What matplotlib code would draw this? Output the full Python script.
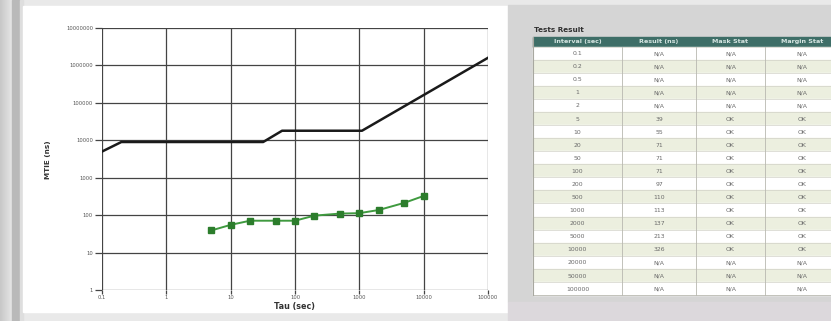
import matplotlib
matplotlib.use("Agg")
import matplotlib.pyplot as plt
from matplotlib.patches import Rectangle
import numpy as np

# mask limit (black) and measured MTIE (green)
mask_tau = [0.1, 0.2, 32, 63, 1100, 100000]
mask_mtie = [5000, 9000, 9000, 18000, 18000, 1600000]

intervals = ["0.1", "0.2", "0.5", "1", "2", "5", "10", "20", "50", "100", "200",
             "500", "1000", "2000", "5000", "10000", "20000", "50000", "100000"]
results = ["N/A", "N/A", "N/A", "N/A", "N/A", "39", "55", "71", "71", "71", "97",
           "110", "113", "137", "213", "326", "N/A", "N/A", "N/A"]
mask_stat = ["N/A"] * 5 + ["OK"] * 11 + ["N/A"] * 3
margin_stat = ["N/A"] * 5 + ["OK"] * 11 + ["N/A"] * 3
headers = ["Interval (sec)", "Result (ns)", "Mask Stat", "Margin Stat"]

xticks = [0.1, 1, 10, 100, 1000, 10000, 100000]
xticklabels = ["0.1", "1", "10", "100", "1000", "10000", "100000"]
yticks = [1, 10, 100, 1000, 10000, 100000, 1000000, 10000000]
yticklabels = ["1", "10", "100", "1000", "10000", "100000", "1000000", "10000000"]

W, H = 831, 321
fig = plt.figure(figsize=(W / 100, H / 100), dpi=100)
fig.patch.set_facecolor("#e9e9e9")

# background panels in pixel coordinates
bg = fig.add_axes([0, 0, 1, 1])
bg.set_xlim(0, W)
bg.set_ylim(H, 0)
bg.axis("off")
grad = np.linspace(0.78, 0.9, 50).reshape(1, -1)
bg.imshow(grad, cmap="gray", vmin=0, vmax=1, extent=[0, 12, H, 0], aspect="auto")
bg.add_patch(Rectangle((12, 0), 8, H, color="#b9b9b9"))
bg.add_patch(Rectangle((20, 0), 3, H, color="#dedede"))
bg.add_patch(Rectangle((23, 6), 485, 306, color="white"))
bg.add_patch(Rectangle((508, 5), W - 508, 297, color="#d5d5d5"))
bg.add_patch(Rectangle((508, 302), W - 508, 19, color="#dcd8dc"))

# table
col_x = [533, 622, 696, 765, 860]
head_top, head_h = 36.5, 10
row_top, row_h = 46.5, 13.08
bg.text(534, 29.5, "Tests Result", fontsize=5.2, fontweight="bold",
        color="#2f2f2f", va="center", ha="left")
bg.add_patch(Rectangle((col_x[0], head_top), col_x[-1] - col_x[0], head_h,
                       color="#3e6e67"))
for i, h in enumerate(headers):
    cx = (col_x[i] + col_x[i + 1]) / 2 if i < 3 else col_x[i] + 37
    bg.text(cx, head_top + head_h / 2 + 0.3, h, fontsize=4.6, fontweight="bold",
            color="#d6e6e2", ha="center", va="center")
columns = [intervals, results, mask_stat, margin_stat]
for r in range(len(intervals)):
    y0 = row_top + r * row_h
    fc = "white" if r % 2 == 0 else "#ecefdf"
    bg.add_patch(Rectangle((col_x[0], y0), col_x[-1] - col_x[0], row_h, color=fc))
    bg.plot([col_x[0], col_x[-1]], [y0, y0], color="#d2d2c8", lw=0.5)
    for i, col in enumerate(columns):
        cx = (col_x[i] + col_x[i + 1]) / 2 if i < 3 else col_x[i] + 37
        bg.text(cx, y0 + row_h / 2 + 0.6, col[r], fontsize=4.4, color="#6a6a6a",
                ha="center", va="center")
tbl_bottom = row_top + len(intervals) * row_h
for x in col_x[:4]:
    bg.plot([x, x], [head_top + head_h, tbl_bottom], color="#b8b8b0", lw=0.6)
bg.plot([col_x[0], col_x[-1]], [tbl_bottom, tbl_bottom], color="#b8b8b0", lw=0.6)
bg.plot([col_x[0], col_x[0]], [head_top, tbl_bottom], color="#a8a8a0", lw=0.8)

# MTIE chart
ax = fig.add_axes([102 / W, 1 - 290 / H, (488 - 102) / W, (290 - 28) / H])
ax.set_facecolor("none")
ax.set_xscale("log")
ax.set_yscale("log")
ax.set_xlim(0.1, 100000)
ax.set_ylim(1, 10000000)
ax.set_xticks(xticks)
ax.set_xticklabels(xticklabels)
ax.set_yticks(yticks)
ax.set_yticklabels(yticklabels)
ax.minorticks_off()
ax.grid(True, color="#444444", lw=0.9)
for s in ax.spines.values():
    s.set_visible(False)
ax.tick_params(axis="y", length=5, width=0.9, color="#444444", labelsize=3.8,
               labelcolor="#555555", pad=1.5)
ax.tick_params(axis="x", length=3, width=0.9, color="#444444", labelsize=3.8,
               labelcolor="#555555", pad=0.3)

ax.plot(mask_tau, mask_mtie, color="#1a1a1a", lw=1.8, zorder=3)
res_tau = [float(t) for t, v in zip(intervals, results) if v != "N/A"]
res_val = [float(v) for v in results if v != "N/A"]
ax.plot(res_tau, res_val, color="#3f9a3f", lw=1.4, marker="s", ms=4,
        mfc="#2c7d2c", mec="#2c7d2c", zorder=4)

fig.text(48 / W, 1 - 160 / H, "MTIE (ns)", rotation=90, fontsize=5.2,
         fontweight="bold", color="#333333", ha="center", va="center")
fig.text(295 / W, 1 - 307 / H, "Tau (sec)", fontsize=5.8,
         fontweight="bold", color="#333333", ha="center", va="center")

fig.savefig("out.png", dpi=100)
